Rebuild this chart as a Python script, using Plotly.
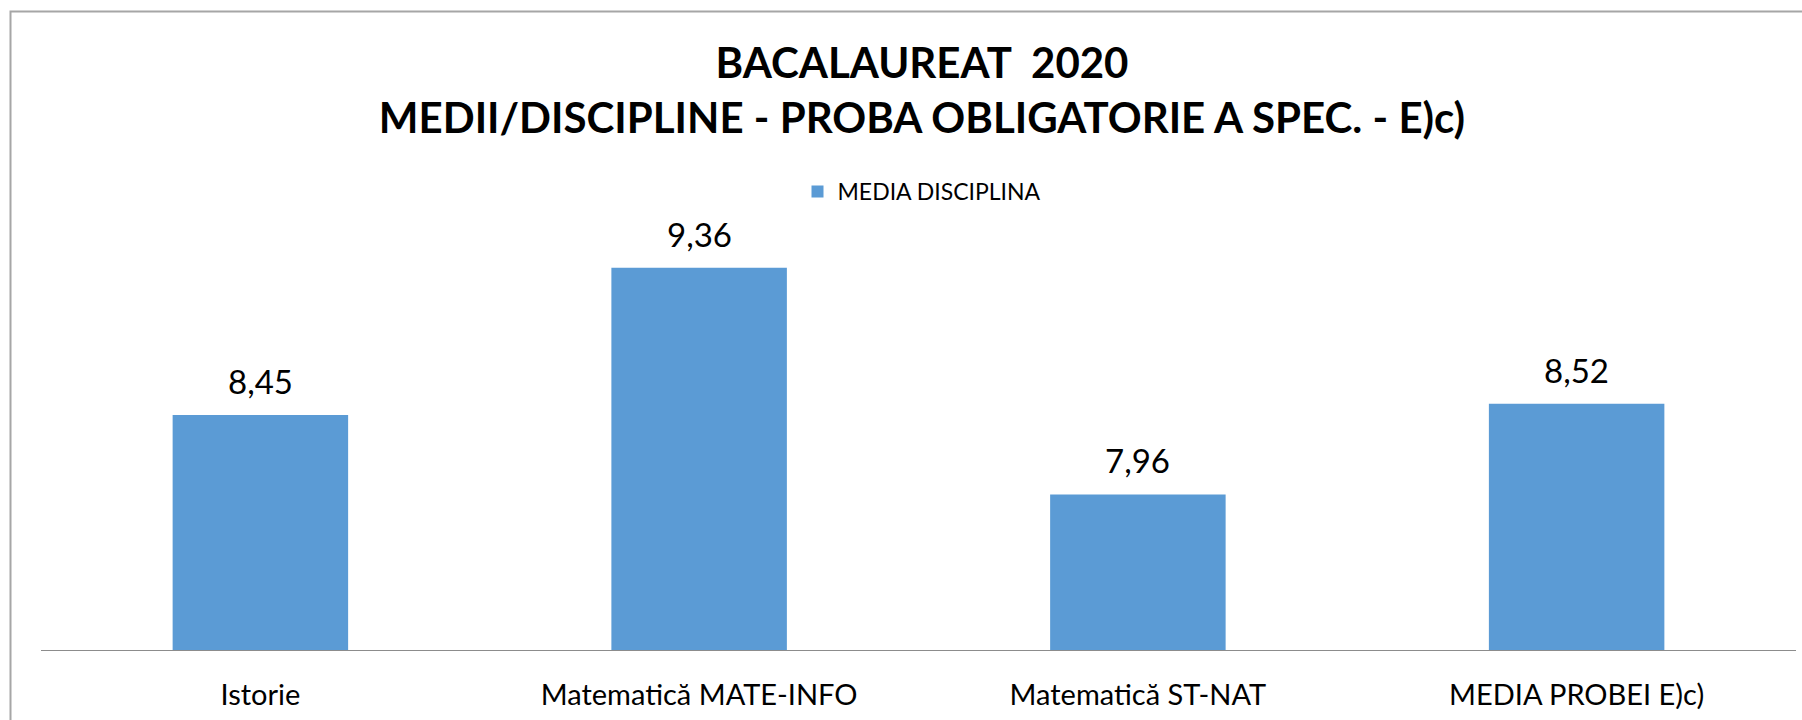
import plotly.graph_objects as go

categories = ["Istorie", "Matematică MATE-INFO", "Matematică ST-NAT", "MEDIA PROBEI E)c)"]
values = [8.45, 9.36, 7.96, 8.52]
series_name = "MEDIA DISCIPLINA"
title_lines = ["BACALAUREAT\u00a0 2020", "MEDII/DISCIPLINE - PROBA OBLIGATORIE A SPEC. - E)c)"]

W, H = 1802, 720
ML, MR, MT, MB = 41, 6, 245, 70
FONT = "Lato"

fig = go.Figure()
fig.add_trace(go.Bar(
    x=categories, y=values, name=series_name,
    marker=dict(color="#5b9bd5", line=dict(width=0)),
    showlegend=True,
))

labels = [f"{v:.2f}".replace(".", ",") for v in values]
for c, v, t in zip(categories, values, labels):
    fig.add_annotation(x=c, y=v, text=t, showarrow=False, yanchor="bottom",
                       yshift=12, font=dict(family=FONT, size=33, color="#000000"))

pw = W - ML - MR
ph = H - MT - MB
fig.add_shape(type="rect", xref="paper", yref="paper",
              x0=(10.5 - ML) / pw, x1=1.2, y0=-0.5, y1=(H - MB - 11.5) / ph,
              line=dict(color="#a6a6a6", width=2), fillcolor="rgba(0,0,0,0)", layer="below")

fig.update_layout(
    width=W, height=H,
    margin=dict(l=ML, r=MR, t=MT, b=MB),
    paper_bgcolor="white", plot_bgcolor="white",
    bargap=0.6,
    title=dict(text="<br>".join(title_lines), x=922 / W, xanchor="center",
               y=1 - 78 / H, yanchor="top", xref="container", yref="container",
               font=dict(family=FONT, size=42, color="#000000", weight="bold")),
    legend=dict(orientation="h", x=922 / W, xanchor="center", xref="container",
                y=1 - 170 / H, yanchor="top", yref="container",
                font=dict(family=FONT, size=23, color="#000000")),
    xaxis=dict(showline=True, linecolor="#8c8c8c", linewidth=1, showgrid=False,
               ticks="", ticklabelstandoff=19,
               tickfont=dict(family=FONT, size=29, color="#000000")),
    yaxis=dict(range=[7, 9.5], visible=False, showgrid=False, zeroline=False),
)

fig.write_html("out.html", config={"displayModeBar": False},
               post_script="document.body.style.margin='0';")
